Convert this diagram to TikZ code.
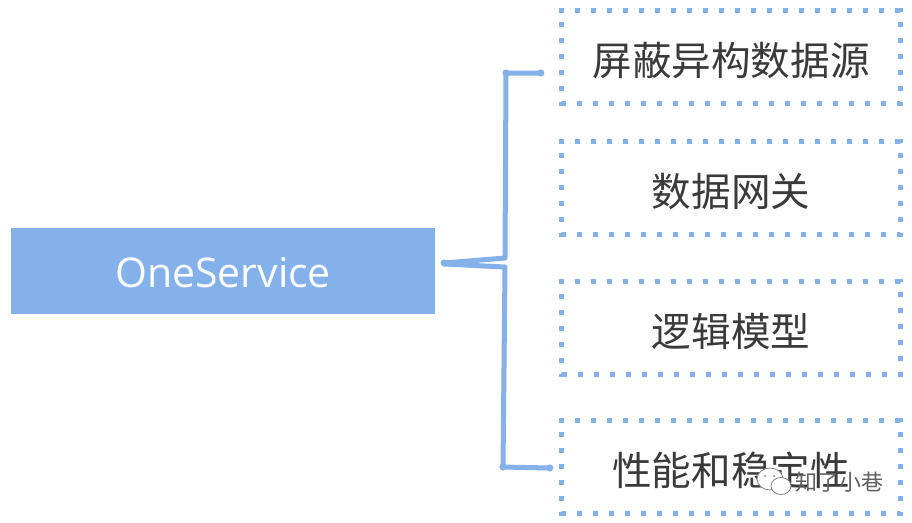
\documentclass[tikz,border=0pt]{standalone}
\usepackage{fontspec}
\setmainfont{Open Sans}
\newfontfamily\cjk{Noto Sans CJK SC}
\definecolor{blueA}{HTML}{85B1EA}
\definecolor{inkA}{HTML}{3A3A3A}
\newcommand{\lowr}[2]{\vbox{\vskip #1\hbox{#2}}}
\tikzset{
  x=1pt,y=-1pt,
  rootbox/.style={fill=blueA,minimum width=424pt,minimum height=86pt,inner sep=0pt,text=white,font=\fontsize{41}{44}\selectfont},
  itembox/.style={minimum width=338pt,inner sep=0pt,text=inkA,font=\cjk\fontsize{39.6}{44}\selectfont},
  dotline/.style={draw=blueA,line width=5pt,dash pattern=on 5pt off 11pt},
  conn/.style={draw=blueA,line width=5pt,line cap=round,line join=round},
  blob/.style={fill=blueA},
  wechat/.style={draw=black!50,fill=white,line width=0.8pt},
}
\begin{document}
\begin{tikzpicture}
\useasboundingbox (0,0) rectangle (912,522);
\node[rootbox] (root) at (223,271) {\lowr{3pt}{OneService}};
\node[itembox,minimum height=92pt] (b1) at (731,57) {\lowr{6pt}{屏蔽异构数据源}};
\node[itembox,minimum height=92pt] (b2) at (731,188) {\lowr{6pt}{数据网关}};
\node[itembox,minimum height=93pt] (b3) at (731,328) {\lowr{6pt}{逻辑模型}};
\node[itembox,minimum height=92pt] (b4) at (731,467) {\lowr{6pt}{性能和稳定性}};
\foreach \b in {b1,b2,b3,b4}{
  \draw[dotline] ([xshift=-2.5pt]\b.north west) -- (\b.north east) -- (\b.south east) -- (\b.south west) -- (\b.north west);
}
\coordinate (s1) at ([xshift=9pt,yshift=8pt]root.east);
\coordinate (s2) at ([xshift=9pt,yshift=7pt]root.east);
\coordinate (k1) at (505,258);
\coordinate (k2) at (505,267);
\coordinate (u) at (506,73);
\coordinate (d) at (503,467);
\coordinate (e1) at ([xshift=-21pt,yshift=-16pt]b1.west);
\coordinate (e4) at ([xshift=-12pt,yshift=-1pt]b4.west);
\draw[conn] (s1) -- (k1) -- (u) -- (e1);
\draw[conn] (s2) -- (k2) -- (d) -- (e4);
\foreach \p in {s1,e1,e4,u,d}{\fill[blob] (\p) circle (3.6pt);}
\draw[wechat] (770,479) ellipse (13pt and 11pt);
\draw[wechat] (781,486) ellipse (10pt and 8.5pt);
\fill[black!50] (765,476) circle (1pt) (774,476) circle (1pt);
\node[inner sep=0pt,text=black!62,font=\cjk\fontsize{22}{24}\selectfont] (wm) at (839,482) {知了小巷};
\end{tikzpicture}
\end{document}
